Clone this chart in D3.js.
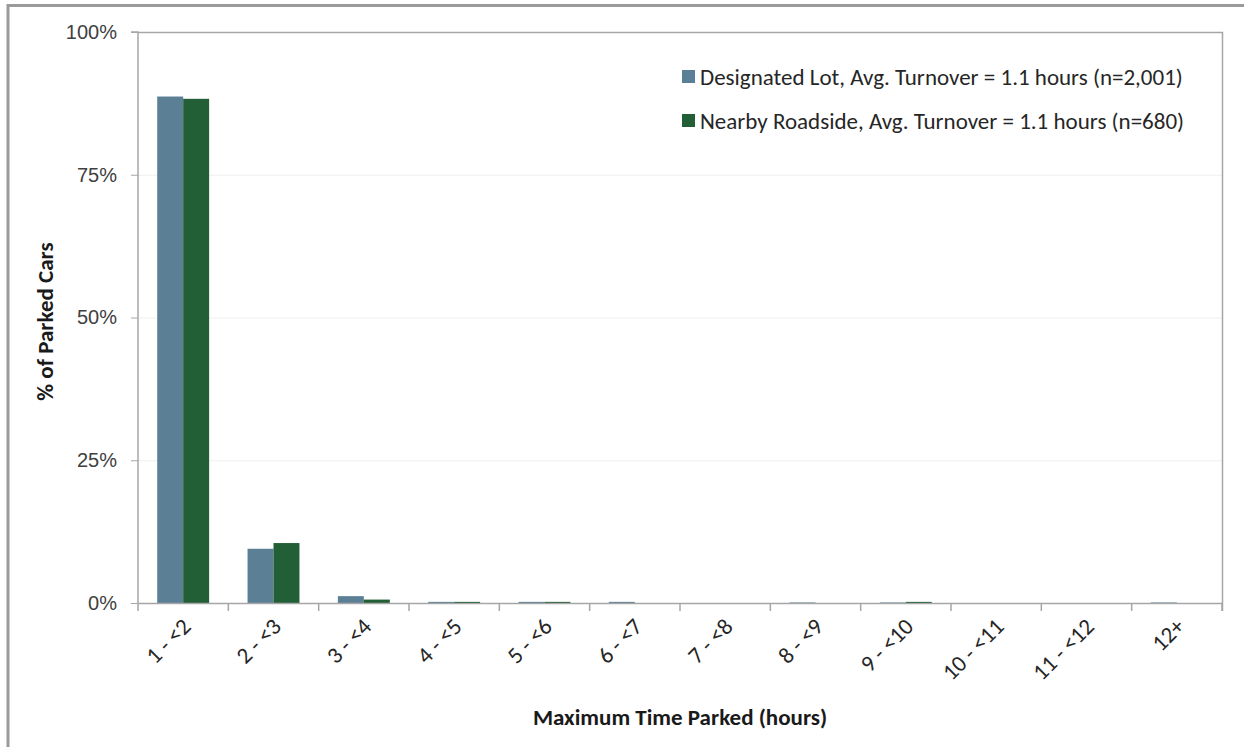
<!DOCTYPE html>
<html><head><meta charset="utf-8">
<script src="https://cdn.jsdelivr.net/npm/d3@7"></script>
<style>
html,body{margin:0;padding:0;background:#fff;}
svg{display:block;font-family:Carlito,Calibri,Lato,"Open Sans",sans-serif;}
</style></head>
<body><svg id="chart" width="1244" height="747"></svg>
<script>
const categories = ["1 - <2","2 - <3","3 - <4","4 - <5","5 - <6","6 - <7","7 - <8","8 - <9","9 - <10","10 - <11","11 - <12","12+"];
const designatedLot = [88.7, 9.5, 1.2, 0.2, 0.2, 0.2, 0, 0.1, 0.1, 0, 0, 0.1];
const nearbyRoadside = [88.3, 10.5, 0.6, 0.2, 0.2, 0, 0, 0, 0.2, 0, 0, 0];
const seriesNames = ["Designated Lot, Avg. Turnover = 1.1 hours (n=2,001)", "Nearby Roadside, Avg. Turnover = 1.1 hours (n=680)"];
const yTicks = [0, 25, 50, 75, 100];
const colors = ["#5b8096", "#235f36"];

const svg = d3.select("#chart");
const m = {left:138, right:1222, top:32, bottom:603};

// outer border
svg.append("rect").attr("x",8).attr("y",5.5).attr("width",1250).attr("height",760)
  .attr("fill","none").attr("stroke","#9a9a9a").attr("stroke-width",3);

const x = d3.scaleBand().domain(categories).range([m.left, m.right]).padding(0);
const x1 = d3.scaleBand().domain([0,1]).range([0, x.bandwidth()]).paddingOuter(0.74).paddingInner(0);
const y = d3.scaleLinear().domain([0,100]).range([m.bottom, m.top]);

// gridlines
svg.append("g").selectAll("line").data(yTicks.filter(t=>t>0 && t<100)).join("line")
  .attr("x1",m.left).attr("x2",m.right).attr("y1",d=>y(d)+0.5).attr("y2",d=>y(d)+0.5)
  .attr("stroke","#efefef").attr("stroke-width",1);

// plot area top/right border
svg.append("path").attr("d",`M${m.left},${m.top+0.5}H${m.right+0.5}V${m.bottom+8}`)
  .attr("fill","none").attr("stroke","#a6a6a6").attr("stroke-width",1.5);

// bars
const series = [designatedLot, nearbyRoadside];
series.forEach((vals, si) => {
  svg.append("g").selectAll("rect").data(vals.map((v,i)=>({v, c:categories[i]})).filter(d=>d.v>0)).join("rect")
    .attr("x", d => x(d.c) + x1(si))
    .attr("width", x1.bandwidth())
    .attr("y", d => y(d.v))
    .attr("height", d => m.bottom - y(d.v))
    .attr("fill", colors[si]);
});

// y axis
const yAxis = d3.axisLeft(y).tickValues(yTicks).tickFormat(d=>d+"%").tickSize(7).tickPadding(14);
const gy = svg.append("g").attr("transform",`translate(${m.left},0)`).call(yAxis);
gy.select(".domain").attr("stroke","#a6a6a6").attr("stroke-width",1.5).attr("d",`M-7,${m.top}H0V${m.bottom}`);
gy.selectAll(".tick line").attr("stroke","#a6a6a6");
gy.selectAll(".tick text").attr("fill","#404040").style("font-size","20px").attr("font-family",null);

// x axis
const gx = svg.append("g").attr("transform",`translate(0,${m.bottom})`);
gx.append("line").attr("x1",m.left).attr("x2",m.right).attr("y1",0.5).attr("y2",0.5).attr("stroke","#a6a6a6").attr("stroke-width",1.5);
const edges = categories.map(c=>x(c)).concat([m.right]);
gx.selectAll("line.tk").data(edges).join("line").attr("class","tk")
  .attr("x1",d=>d).attr("x2",d=>d).attr("y1",0).attr("y2",8).attr("stroke","#a6a6a6").attr("stroke-width",1.5);
gx.selectAll("text").data(categories).join("text")
  .attr("transform", d => `translate(${x(d)+x.bandwidth()/2+9},${25}) rotate(-45)`)
  .attr("text-anchor","end").attr("fill","#262626").style("font-size","23px")
  .text(d=>d);

// axis titles
svg.append("text").attr("transform",`translate(53,${(m.top+m.bottom)/2+4}) rotate(-90)`)
  .attr("text-anchor","middle").attr("font-weight","bold").style("font-size","23px").attr("fill","#1a1a1a")
  .text("% of Parked Cars");
svg.append("text").attr("x",680).attr("y",725)
  .attr("text-anchor","middle").attr("font-weight","bold").style("font-size","23px").attr("fill","#1a1a1a")
  .text("Maximum Time Parked (hours)");

// legend
const lg = svg.append("g").attr("transform","translate(682,70)");
seriesNames.forEach((n,i)=>{
  const g = lg.append("g").attr("transform",`translate(0,${i*44})`);
  g.append("rect").attr("width",13).attr("height",13).attr("fill",colors[i]);
  g.append("text").attr("x",18).attr("y",15).attr("fill","#262626").style("font-size","23px").text(n);
});
</script></body></html>
